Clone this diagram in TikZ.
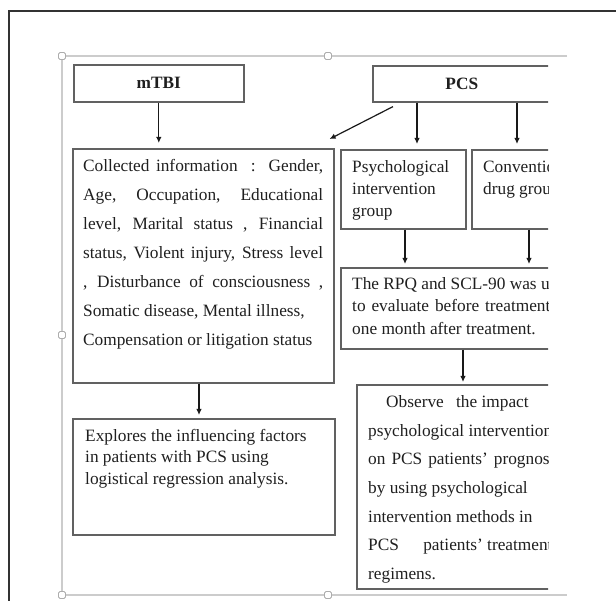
\documentclass[tikz,border=0pt]{standalone}
\usepackage{fontspec}
\setmainfont{Liberation Serif}
\usetikzlibrary{arrows.meta,calc}
\begin{document}
\begin{tikzpicture}[x=1pt,y=-1pt,
  box/.style={draw=black!62,line width=1.6pt,rectangle,inner sep=0pt,anchor=north west},
  txt/.style={inner sep=0pt,anchor=north west,align=left,text=black!88},
  arr/.style={draw=black!90,line width=1.2pt,-{Latex[length=6pt,width=5.5pt]}},
  selframe/.style={draw=black!20,line width=1.2pt},
  handle/.style={draw=black!32,fill=white,line width=0.8pt,rounded corners=1.5pt,minimum size=7pt,inner sep=0pt},
]
\useasboundingbox (0,0) rectangle (616,601);
% outer frame
\draw[black!80,line width=1.6pt] (9,603) -- (9,11) -- (618,11);
% selection frame
\draw[selframe] (567,56) -- (62,56) -- (62,595) -- (567,595);
\node[handle] (h1) at (62,56) {};
\node[handle] (h2) at (328,56) {};
\node[handle] (h3) at (62,335) {};
\node[handle] (h4) at (62,595) {};
\node[handle] (h5) at (328,595) {};

\begin{scope}
\clip (0,0) rectangle (548,601);
\node[box,minimum width=170pt,minimum height=37pt,font=\fontsize{17.3pt}{20pt}\selectfont\bfseries,text=black!88] (mtbi) at (73,64) {mTBI};
\node[box,minimum width=178pt,minimum height=36pt,font=\fontsize{17.3pt}{20pt}\selectfont\bfseries,text=black!88] (pcs) at (372,65) {PCS};
\node[box,minimum width=261pt,minimum height=234pt] (coll) at (72,148) {};
\node[box,minimum width=262pt,minimum height=116pt] (expl) at (72,418) {};
\node[box,minimum width=125pt,minimum height=79pt] (psych) at (340,149) {};
\node[box,minimum width=100pt,minimum height=79pt] (conv) at (471,149) {};
\node[box,minimum width=230pt,minimum height=81pt] (rpq) at (340,267) {};
\node[box,minimum width=220pt,minimum height=204pt] (obs) at (356,384) {};

\node[txt,font=\fontsize{17.3pt}{29pt}\selectfont] (tcoll) at (83,159) {%
\makebox[240pt][s]{Collected information\ \ :\ \ Gender,}\\
\makebox[240pt][s]{Age, Occupation, Educational}\\
\makebox[240pt][s]{level, Marital status , Financial}\\
\makebox[240pt][s]{status, Violent injury, Stress level}\\
\makebox[240pt][s]{, Disturbance of consciousness ,}\\
Somatic disease, Mental illness,\\
Compensation or litigation status};
\node[txt,font=\fontsize{17.3pt}{21.5pt}\selectfont] (texpl) at (85,429) {%
Explores the influencing factors\\
in patients with PCS using\\
logistical regression analysis.};
\node[txt,font=\fontsize{17.3pt}{22pt}\selectfont] (tpsych) at (352,160) {%
Psychological\\ intervention\\ group};
\node[txt,font=\fontsize{17.3pt}{22pt}\selectfont] (tconv) at (483,160) {%
Conventional\\ drug group};
\node[txt,font=\fontsize{17.3pt}{22.5pt}\selectfont] (trpq) at (352,277) {%
The RPQ and SCL-90 was used\\
\makebox[229pt][s]{to evaluate before treatment and}\\
one month after treatment.};
\node[txt,font=\fontsize{17.3pt}{28.7pt}\selectfont] (tobs) at (368,395) {%
\hspace*{18pt}Observe\hspace{8pt} the impact\hspace{20pt} of\\
psychological intervention\\
\makebox[193pt][s]{on PCS patients' prognosis}\\
by using psychological\\
intervention methods in\\
PCS\hspace{20pt} patients' treatment\\
regimens.};

% connectors
\coordinate (s1) at (mtbi.south);
\draw[arr,shorten >=5pt] (s1) -- (s1 |- coll.north);
\coordinate (s2) at ($(pcs.south west)+(45,0)$);
\draw[arr,shorten >=5pt] (s2) -- (s2 |- psych.north);
\coordinate (s3) at ($(pcs.south west)+(145,0)$);
\draw[arr,shorten >=5pt] (s3) -- (s3 |- conv.north);
\draw[arr] ($(pcs.south west)+(21,4)$) -- ($(coll.north east)+(-5,-9)$);
\coordinate (s4) at ($(psych.south west)+(65,0)$);
\draw[arr,shorten >=3pt] (s4) -- (s4 |- rpq.north);
\coordinate (s5) at ($(conv.south west)+(58,0)$);
\draw[arr,shorten >=3pt] (s5) -- (s5 |- rpq.north);
\coordinate (s6) at ($(rpq.south west)+(123,0)$);
\draw[arr,shorten >=2pt] (s6) -- (s6 |- obs.north);
\coordinate (s7) at ($(coll.south west)+(127,0)$);
\draw[arr,shorten >=3pt] (s7) -- (s7 |- expl.north);
\end{scope}
\end{tikzpicture}
\end{document}
